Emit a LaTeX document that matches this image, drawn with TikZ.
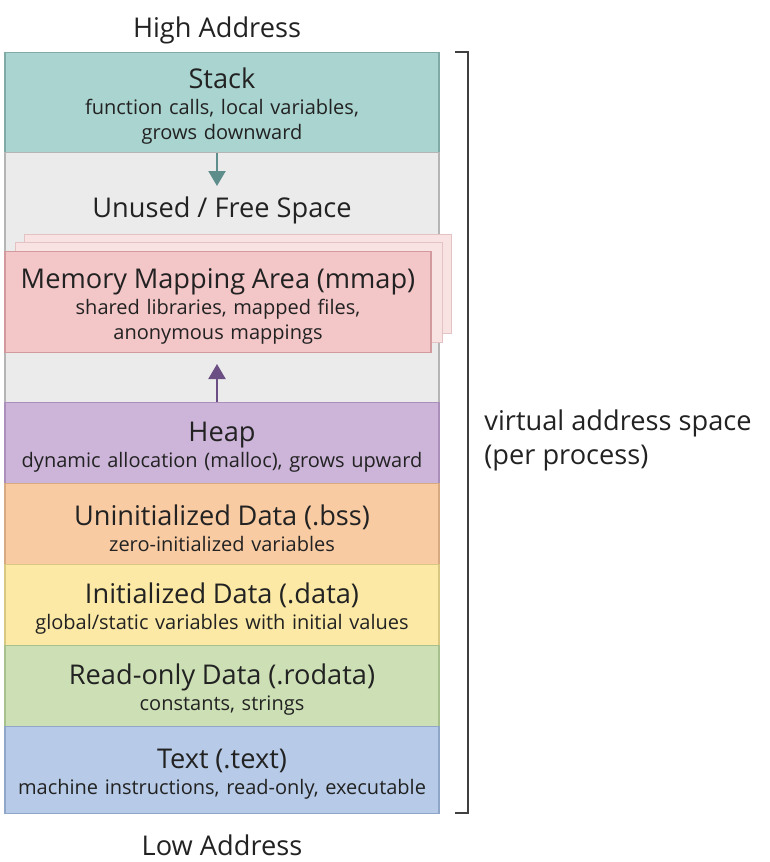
\documentclass[tikz,border=0pt]{standalone}
\usepackage{fontspec}
\setmainfont{Open Sans}
\usetikzlibrary{arrows.meta}
\definecolor{txt}{HTML}{222222}
\definecolor{stackfill}{HTML}{A9D4CF}
\definecolor{stackline}{HTML}{7FAAA5}
\definecolor{freefill}{HTML}{EBEBEB}
\definecolor{freeline}{HTML}{B5B5B5}
\definecolor{mmapfill}{HTML}{F3C6C8}
\definecolor{mmapline}{HTML}{D39A9E}
\definecolor{mmapback}{HTML}{F8E2E2}
\definecolor{mmapbackline}{HTML}{E2C2C3}
\definecolor{heapfill}{HTML}{CDB5DA}
\definecolor{heapline}{HTML}{A98FBA}
\definecolor{bssfill}{HTML}{F8CBA3}
\definecolor{bssline}{HTML}{D8AA82}
\definecolor{datafill}{HTML}{FBE9A5}
\definecolor{dataline}{HTML}{D9C882}
\definecolor{rofill}{HTML}{CDE0B5}
\definecolor{roline}{HTML}{A8BF8E}
\definecolor{textfill}{HTML}{B7CBE8}
\definecolor{textline}{HTML}{8FA6C8}
\definecolor{downarrow}{HTML}{5E8E8C}
\definecolor{uparrow}{HTML}{6B4F84}
\newcommand\segtext[2]{{\fontsize{13.6}{16}\selectfont\rule{0pt}{14pt}#1\par}\vspace{0.5pt}{\fontsize{10}{12.5}\selectfont #2\par}}
\begin{document}
\begin{tikzpicture}[x=0.5pt,y=-0.5pt,
  seg/.style={rectangle,anchor=north,minimum width=217pt,inner sep=0pt,
    text width=215pt,align=center,text=txt,line width=0.7pt},
  hdr/.style={font=\fontsize{13.6}{17}\selectfont,text=txt,inner sep=0pt},
  growarrow/.style={line width=1.1pt,-{Triangle[width=8.5pt,length=7.5pt]}}]
\useasboundingbox (0,0) rectangle (770,862);
% address labels
\node[hdr] (high) at (217,30) {High Address};
\node[hdr] (low) at (222,845) {Low Address};
% segments, top to bottom
\node[seg,fill=stackfill,draw=stackline,minimum height=50pt] (stack) at (222,52)
  {\segtext{Stack}{function calls, local variables,\\grows downward}};
\node[seg,fill=freefill,draw=freeline,minimum height=125pt] (free) at (222,152) {};
\node[hdr] (unused) at (222,210) {Unused / Free Space};
\draw[fill=mmapback,draw=mmapbackline] (24,234) rectangle (451,333);
\draw[fill=mmapback,draw=mmapbackline] (15,242) rectangle (442,342);
\node[seg,fill=mmapfill,draw=mmapline,minimum width=213pt,text width=211pt,minimum height=50.5pt] (mmap) at (218,251)
  {\segtext{Memory Mapping Area (mmap)}{shared libraries, mapped files,\\anonymous mappings}};
\node[seg,fill=heapfill,draw=heapline,minimum height=40.5pt] (heap) at (222,402)
  {\segtext{Heap}{dynamic allocation (malloc), grows upward}};
\node[seg,fill=bssfill,draw=bssline,minimum height=40.5pt] (bss) at (222,483)
  {\segtext{Uninitialized Data (.bss)}{zero-initialized variables}};
\node[seg,fill=datafill,draw=dataline,minimum height=40.5pt] (data) at (222,564)
  {\segtext{Initialized Data (.data)}{global/static variables with initial values}};
\node[seg,fill=rofill,draw=roline,minimum height=40.5pt] (rodata) at (222,645)
  {\segtext{Read-only Data (.rodata)}{constants, strings}};
\node[seg,fill=textfill,draw=textline,minimum height=43.5pt] (text) at (222,726)
  {\segtext{Text (.text)}{machine instructions, read-only, executable}};
% growth arrows
\coordinate (dn) at (217,186);
\coordinate (up) at (217,364);
\draw[growarrow,draw=downarrow,fill=downarrow] (dn |- stack.south) -- (dn);
\draw[growarrow,draw=uparrow,fill=uparrow] (up |- heap.north) -- (up);
% bracket
\coordinate (bt) at (468,52);
\coordinate (bb) at (468,813);
\draw[line width=0.8pt,draw=black!75] ([xshift=-6.5pt]bt) -- (bt) -- (bb) -- ([xshift=-6.5pt]bb);
\node[hdr,anchor=west,align=left] (vas) at (484,440) {virtual address space\\(per process)};
\end{tikzpicture}
\end{document}
